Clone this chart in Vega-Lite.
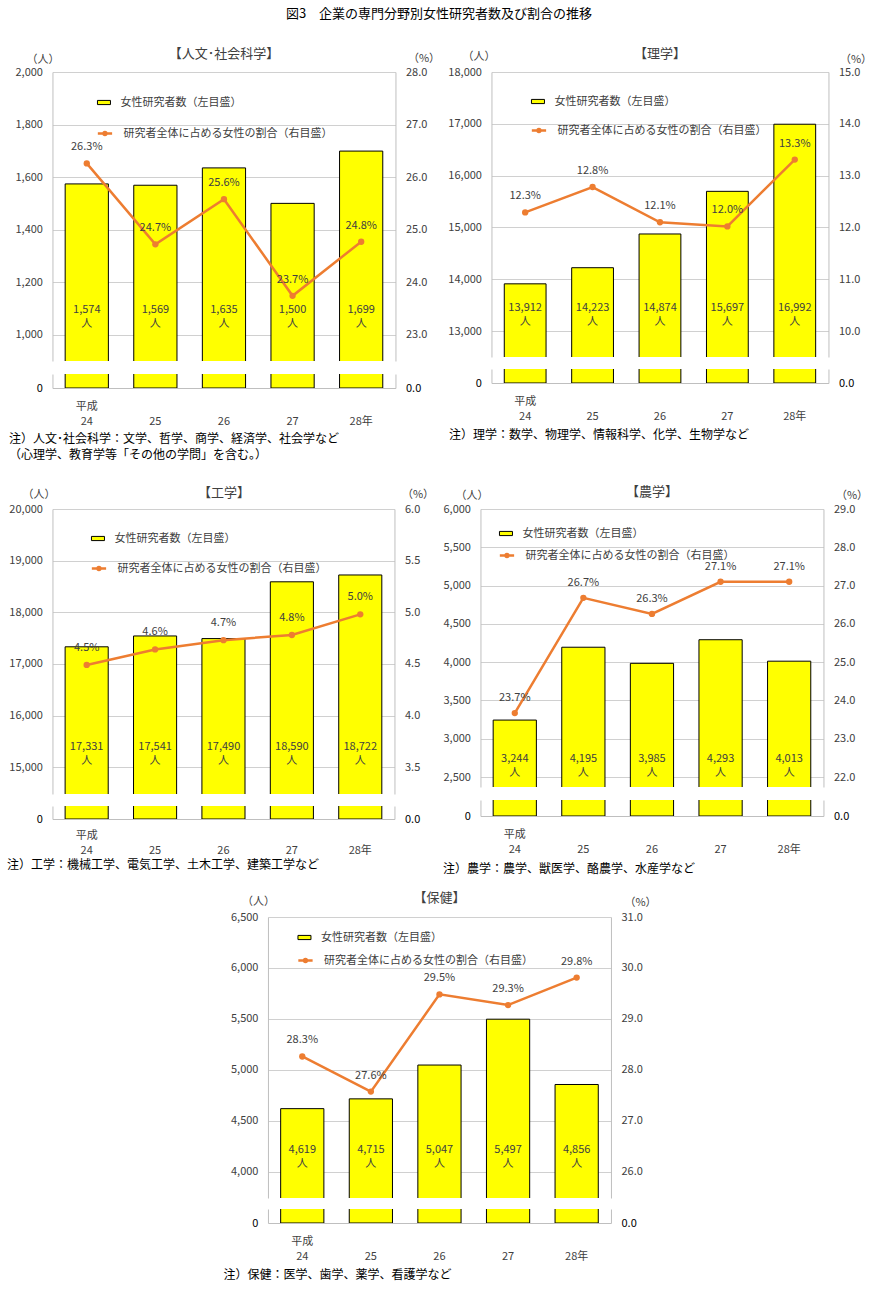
{
  "$schema": "https://vega.github.io/schema/vega-lite/v6.json",
  "padding": {"left": 6, "top": 8, "right": 5, "bottom": 5},
  "background": "#ffffff",
  "title": {"text": "図3　企業の専門分野別女性研究者数及び割合の推移", "anchor": "middle", "fontSize": 13, "fontWeight": "normal", "color": "#000000", "offset": 26},
  "spacing": 17,
  "center": true,
  "resolve": {"scale": {"fill": "independent", "stroke": "independent"}, "legend": {"fill": "independent", "stroke": "independent"}},
  "vconcat": [
    {
      "spacing": 25,
      "resolve": {"scale": {"fill": "independent", "stroke": "independent"}, "legend": {"fill": "independent", "stroke": "independent"}},
      "vconcat": [
        {
          "spacing": 7,
          "resolve": {"scale": {"fill": "independent", "stroke": "independent"}, "legend": {"fill": "independent", "stroke": "independent"}},
          "hconcat": [
            {
              "data": {"values": [
                {"year": "24", "count": 1574, "pct": 26.26},
                {"year": "25", "count": 1569, "pct": 24.72},
                {"year": "26", "count": 1635, "pct": 25.58},
                {"year": "27", "count": 1500, "pct": 23.74},
                {"year": "28年", "count": 1699, "pct": 24.77}
              ]},
              "spacing": 13,
              "resolve": {"scale": {"fill": "independent", "stroke": "independent"}, "legend": {"fill": "independent", "stroke": "independent"}},
              "vconcat": [
                {
                  "width": 343, "height": 289,
                  "encoding": {
                    "x": {"field": "year", "type": "nominal", "sort": null, "scale": {"paddingInner": 0.37, "paddingOuter": 0.185},
                          "axis": {"orient": "top", "labels": false, "ticks": false, "domain": false, "grid": false, "title": "【人文･社会科学】", "titleAngle": 0, "titleX": 171, "titleY": -19, "titleAlign": "center", "titleBaseline": "middle", "titleFontSize": 13}}
                  },
                  "layer": [
                    {
                      "encoding": {
                        "y": {"field": "count", "type": "quantitative", "scale": {"domain": [900, 2000], "nice": false, "zero": false},
                              "axis": {"orient": "left", "values": [1000, 1200, 1400, 1600, 1800, 2000], "labelExpr": "format(datum.value, ',')", "grid": true, "title": "（人）", "titleAngle": 0, "titleX": -10, "titleY": -13, "titleAlign": "center", "titleBaseline": "middle"}}
                      },
                      "layer": [
                        {"mark": {"type": "bar", "clip": true, "stroke": "#000000", "strokeWidth": 1},
                         "encoding": {
                           "fill": {"datum": "女性研究者数（左目盛）", "scale": {"range": ["#FFFF00"]},
                                    "legend": {"orient": "none", "legendX": 38, "legendY": 17, "title": null, "padding": 0, "labelLimit": 400, "symbolType": "M-0.5,-0.16H0.5V0.16H-0.5Z", "symbolSize": 676, "symbolStrokeColor": "#000000", "symbolStrokeWidth": 1, "labelOffset": 3}}
                         }},
                        {"transform": [{"calculate": "format(datum.count, ',') + '\\n人'", "as": "lbl"}],
                         "mark": {"type": "text", "lineBreak": "\n", "lineHeight": 14, "baseline": "middle"},
                         "encoding": {
                           "y": {"datum": 1095, "type": "quantitative", "scale": {"domain": [900, 2000], "nice": false, "zero": false},
                                 "axis": {"orient": "left", "values": [1000, 1200, 1400, 1600, 1800, 2000], "labelExpr": "format(datum.value, ',')", "grid": true, "title": "（人）", "titleAngle": 0, "titleX": -10, "titleY": -13, "titleAlign": "center", "titleBaseline": "middle"}},
                           "text": {"field": "lbl"}
                         }}
                      ]
                    },
                    {
                      "encoding": {
                        "y": {"field": "pct", "type": "quantitative", "scale": {"domain": [22.5, 28], "nice": false, "zero": false},
                              "axis": {"orient": "right", "values": [23, 24, 25, 26, 27, 28], "format": ".1f", "grid": false, "title": "（%）", "titleAngle": 0, "titleX": 28, "titleY": -14, "titleAlign": "center", "titleBaseline": "middle"}}
                      },
                      "layer": [
                        {"mark": {"type": "line", "strokeWidth": 2.5},
                         "encoding": {
                           "stroke": {"datum": "研究者全体に占める女性の割合（右目盛）", "scale": {"range": ["#ED7D31"]},
                                      "legend": {"orient": "none", "legendX": 38, "legendY": 47, "title": null, "padding": 0, "labelLimit": 400, "symbolType": "M-0.55,0H0.55M0.11,0A0.11,0.11,0,1,1,-0.11,0A0.11,0.11,0,1,1,0.11,0Z", "symbolSize": 676, "symbolStrokeWidth": 2.5, "labelOffset": 4,
                                                 "encode": {"symbols": {"update": {"fill": {"value": "#ED7D31"}, "stroke": {"value": "#ED7D31"}, "strokeWidth": {"value": 2.5}}}}}}
                         }},
                        {"mark": {"type": "point", "filled": true, "size": 40, "color": "#ED7D31", "opacity": 1}},
                        {"transform": [{"calculate": "format(datum.pct, '.1f') + '%'", "as": "plbl"}],
                         "mark": {"type": "text", "dy": -16, "baseline": "middle"},
                         "encoding": {"text": {"field": "plbl"}}}
                      ]
                    }
                  ],
                  "resolve": {"scale": {"y": "independent"}}
                },
                {
                  "width": 343, "height": 14,
                  "encoding": {
                    "x": {"field": "year", "type": "nominal", "sort": null, "scale": {"paddingInner": 0.37, "paddingOuter": 0.185},
                          "axis": {"orient": "bottom", "labelExpr": "datum.value == '24' ? ['平成', '24'] : ['', datum.value]", "labelLineHeight": 15, "labelPadding": 12, "labelAngle": 0, "ticks": false, "grid": false,
                                   "title": ["注）人文･社会科学：文学、哲学、商学、経済学、社会学など", "　（心理学、教育学等「その他の学問」を含む。）"], "titleX": -44, "titleY": 45, "titleAlign": "left", "titleBaseline": "top", "titleAngle": 0, "titleFontSize": 12, "titleColor": "#000000", "titleLineHeight": 16}}
                  },
                  "layer": [
                    {"mark": {"type": "bar", "clip": true, "stroke": "#000000", "strokeWidth": 1, "fill": "#FFFF00"},
                     "encoding": {
                       "y": {"field": "count", "type": "quantitative", "scale": {"domain": [0, 100], "nice": false},
                             "axis": {"orient": "left", "values": [0], "grid": false, "title": null, "labelColor": "#000000"}}
                     }},
                    {"mark": {"type": "bar", "clip": true, "opacity": 0},
                     "encoding": {
                       "y": {"field": "pct", "type": "quantitative", "scale": {"domain": [0, 1], "nice": false},
                             "axis": {"orient": "right", "values": [0], "format": ".1f", "grid": false, "title": null, "labelColor": "#000000"}}
                     }}
                  ],
                  "resolve": {"scale": {"y": "independent"}}
                }
              ]
            },
            {
              "data": {"values": [
                {"year": "24", "count": 13912, "pct": 12.29},
                {"year": "25", "count": 14223, "pct": 12.78},
                {"year": "26", "count": 14874, "pct": 12.1},
                {"year": "27", "count": 15697, "pct": 12.02},
                {"year": "28年", "count": 16992, "pct": 13.31}
              ]},
              "spacing": 12,
              "resolve": {"scale": {"fill": "independent", "stroke": "independent"}, "legend": {"fill": "independent", "stroke": "independent"}},
              "vconcat": [
                {
                  "width": 337, "height": 285,
                  "encoding": {
                    "x": {"field": "year", "type": "nominal", "sort": null, "scale": {"paddingInner": 0.38, "paddingOuter": 0.19},
                          "axis": {"orient": "top", "labels": false, "ticks": false, "domain": false, "grid": false, "title": "【理学】", "titleAngle": 0, "titleX": 168, "titleY": -19, "titleAlign": "center", "titleBaseline": "middle", "titleFontSize": 13}}
                  },
                  "layer": [
                    {
                      "encoding": {
                        "y": {"field": "count", "type": "quantitative", "scale": {"domain": [12500, 18000], "nice": false, "zero": false},
                              "axis": {"orient": "left", "values": [13000, 14000, 15000, 16000, 17000, 18000], "labelExpr": "format(datum.value, ',')", "grid": true, "title": "（人）", "titleAngle": 0, "titleX": -13, "titleY": -16, "titleAlign": "center", "titleBaseline": "middle"}}
                      },
                      "layer": [
                        {"mark": {"type": "bar", "clip": true, "stroke": "#000000", "strokeWidth": 1},
                         "encoding": {
                           "fill": {"datum": "女性研究者数（左目盛）", "scale": {"range": ["#FFFF00"]},
                                    "legend": {"orient": "none", "legendX": 33, "legendY": 16, "title": null, "padding": 0, "labelLimit": 400, "symbolType": "M-0.5,-0.16H0.5V0.16H-0.5Z", "symbolSize": 676, "symbolStrokeColor": "#000000", "symbolStrokeWidth": 1, "labelOffset": 3}}
                         }},
                        {"transform": [{"calculate": "format(datum.count, ',') + '\\n人'", "as": "lbl"}],
                         "mark": {"type": "text", "lineBreak": "\n", "lineHeight": 14, "baseline": "middle"},
                         "encoding": {
                           "y": {"datum": 13450, "type": "quantitative", "scale": {"domain": [12500, 18000], "nice": false, "zero": false},
                                 "axis": {"orient": "left", "values": [13000, 14000, 15000, 16000, 17000, 18000], "labelExpr": "format(datum.value, ',')", "grid": true, "title": "（人）", "titleAngle": 0, "titleX": -13, "titleY": -16, "titleAlign": "center", "titleBaseline": "middle"}},
                           "text": {"field": "lbl"}
                         }}
                      ]
                    },
                    {
                      "encoding": {
                        "y": {"field": "pct", "type": "quantitative", "scale": {"domain": [9.5, 15], "nice": false, "zero": false},
                              "axis": {"orient": "right", "values": [10, 11, 12, 13, 14, 15], "format": ".1f", "grid": false, "title": "（%）", "titleAngle": 0, "titleX": 27, "titleY": -13, "titleAlign": "center", "titleBaseline": "middle"}}
                      },
                      "layer": [
                        {"mark": {"type": "line", "strokeWidth": 2.5},
                         "encoding": {
                           "stroke": {"datum": "研究者全体に占める女性の割合（右目盛）", "scale": {"range": ["#ED7D31"]},
                                      "legend": {"orient": "none", "legendX": 33, "legendY": 44, "title": null, "padding": 0, "labelLimit": 400, "symbolType": "M-0.55,0H0.55M0.11,0A0.11,0.11,0,1,1,-0.11,0A0.11,0.11,0,1,1,0.11,0Z", "symbolSize": 676, "symbolStrokeWidth": 2.5, "labelOffset": 4,
                                                 "encode": {"symbols": {"update": {"fill": {"value": "#ED7D31"}, "stroke": {"value": "#ED7D31"}, "strokeWidth": {"value": 2.5}}}}}}
                         }},
                        {"mark": {"type": "point", "filled": true, "size": 40, "color": "#ED7D31", "opacity": 1}},
                        {"transform": [{"calculate": "format(datum.pct, '.1f') + '%'", "as": "plbl"}],
                         "mark": {"type": "text", "dy": -16, "baseline": "middle"},
                         "encoding": {"text": {"field": "plbl"}}}
                      ]
                    }
                  ],
                  "resolve": {"scale": {"y": "independent"}}
                },
                {
                  "width": 337, "height": 14,
                  "encoding": {
                    "x": {"field": "year", "type": "nominal", "sort": null, "scale": {"paddingInner": 0.38, "paddingOuter": 0.19},
                          "axis": {"orient": "bottom", "labelExpr": "datum.value == '24' ? ['平成', '24'] : ['', datum.value]", "labelLineHeight": 15, "labelPadding": 12, "labelAngle": 0, "ticks": false, "grid": false,
                                   "title": "注）理学：数学、物理学、情報科学、化学、生物学など", "titleX": -43, "titleY": 46, "titleAlign": "left", "titleBaseline": "top", "titleAngle": 0, "titleFontSize": 12, "titleColor": "#000000"}}
                  },
                  "layer": [
                    {"mark": {"type": "bar", "clip": true, "stroke": "#000000", "strokeWidth": 1, "fill": "#FFFF00"},
                     "encoding": {
                       "y": {"field": "count", "type": "quantitative", "scale": {"domain": [0, 100], "nice": false},
                             "axis": {"orient": "left", "values": [0], "grid": false, "title": null, "labelColor": "#000000"}}
                     }},
                    {"mark": {"type": "bar", "clip": true, "opacity": 0},
                     "encoding": {
                       "y": {"field": "pct", "type": "quantitative", "scale": {"domain": [0, 1], "nice": false},
                             "axis": {"orient": "right", "values": [0], "format": ".1f", "grid": false, "title": null, "labelColor": "#000000"}}
                     }}
                  ],
                  "resolve": {"scale": {"y": "independent"}}
                }
              ]
            }
          ]
        },
        {
          "spacing": 8,
          "resolve": {"scale": {"fill": "independent", "stroke": "independent"}, "legend": {"fill": "independent", "stroke": "independent"}},
          "hconcat": [
            {
              "data": {"values": [
                {"year": "24", "count": 17331, "pct": 4.49},
                {"year": "25", "count": 17541, "pct": 4.64},
                {"year": "26", "count": 17490, "pct": 4.73},
                {"year": "27", "count": 18590, "pct": 4.78},
                {"year": "28年", "count": 18722, "pct": 4.98}
              ]},
              "spacing": 12,
              "resolve": {"scale": {"fill": "independent", "stroke": "independent"}, "legend": {"fill": "independent", "stroke": "independent"}},
              "vconcat": [
                {
                  "width": 342, "height": 285,
                  "encoding": {
                    "x": {"field": "year", "type": "nominal", "sort": null, "scale": {"paddingInner": 0.37, "paddingOuter": 0.185},
                          "axis": {"orient": "top", "labels": false, "ticks": false, "domain": false, "grid": false, "title": "【工学】", "titleAngle": 0, "titleX": 171, "titleY": -17, "titleAlign": "center", "titleBaseline": "middle", "titleFontSize": 13}}
                  },
                  "layer": [
                    {
                      "encoding": {
                        "y": {"field": "count", "type": "quantitative", "scale": {"domain": [14480, 20000], "nice": false, "zero": false},
                              "axis": {"orient": "left", "values": [15000, 16000, 17000, 18000, 19000, 20000], "labelExpr": "format(datum.value, ',')", "grid": true, "title": "（人）", "titleAngle": 0, "titleX": -14, "titleY": -15, "titleAlign": "center", "titleBaseline": "middle"}}
                      },
                      "layer": [
                        {"mark": {"type": "bar", "clip": true, "stroke": "#000000", "strokeWidth": 1},
                         "encoding": {
                           "fill": {"datum": "女性研究者数（左目盛）", "scale": {"range": ["#FFFF00"]},
                                    "legend": {"orient": "none", "legendX": 32, "legendY": 16, "title": null, "padding": 0, "labelLimit": 400, "symbolType": "M-0.5,-0.16H0.5V0.16H-0.5Z", "symbolSize": 676, "symbolStrokeColor": "#000000", "symbolStrokeWidth": 1, "labelOffset": 3}}
                         }},
                        {"transform": [{"calculate": "format(datum.count, ',') + '\\n人'", "as": "lbl"}],
                         "mark": {"type": "text", "lineBreak": "\n", "lineHeight": 14, "baseline": "middle"},
                         "encoding": {
                           "y": {"datum": 15400, "type": "quantitative", "scale": {"domain": [14480, 20000], "nice": false, "zero": false},
                                 "axis": {"orient": "left", "values": [15000, 16000, 17000, 18000, 19000, 20000], "labelExpr": "format(datum.value, ',')", "grid": true, "title": "（人）", "titleAngle": 0, "titleX": -14, "titleY": -15, "titleAlign": "center", "titleBaseline": "middle"}},
                           "text": {"field": "lbl"}
                         }}
                      ]
                    },
                    {
                      "encoding": {
                        "y": {"field": "pct", "type": "quantitative", "scale": {"domain": [3.24, 6], "nice": false, "zero": false},
                              "axis": {"orient": "right", "values": [3.5, 4, 4.5, 5, 5.5, 6], "format": ".1f", "grid": false, "title": "（%）", "titleAngle": 0, "titleX": 23, "titleY": -15, "titleAlign": "center", "titleBaseline": "middle"}}
                      },
                      "layer": [
                        {"mark": {"type": "line", "strokeWidth": 2.5},
                         "encoding": {
                           "stroke": {"datum": "研究者全体に占める女性の割合（右目盛）", "scale": {"range": ["#ED7D31"]},
                                      "legend": {"orient": "none", "legendX": 32, "legendY": 45, "title": null, "padding": 0, "labelLimit": 400, "symbolType": "M-0.55,0H0.55M0.11,0A0.11,0.11,0,1,1,-0.11,0A0.11,0.11,0,1,1,0.11,0Z", "symbolSize": 676, "symbolStrokeWidth": 2.5, "labelOffset": 4,
                                                 "encode": {"symbols": {"update": {"fill": {"value": "#ED7D31"}, "stroke": {"value": "#ED7D31"}, "strokeWidth": {"value": 2.5}}}}}}
                         }},
                        {"mark": {"type": "point", "filled": true, "size": 40, "color": "#ED7D31", "opacity": 1}},
                        {"transform": [{"calculate": "format(datum.pct, '.1f') + '%'", "as": "plbl"}],
                         "mark": {"type": "text", "dy": -17, "baseline": "middle"},
                         "encoding": {"text": {"field": "plbl"}}}
                      ]
                    }
                  ],
                  "resolve": {"scale": {"y": "independent"}}
                },
                {
                  "width": 342, "height": 13,
                  "encoding": {
                    "x": {"field": "year", "type": "nominal", "sort": null, "scale": {"paddingInner": 0.37, "paddingOuter": 0.185},
                          "axis": {"orient": "bottom", "labelExpr": "datum.value == '24' ? ['平成', '24'] : ['', datum.value]", "labelLineHeight": 15, "labelPadding": 10, "labelAngle": 0, "ticks": false, "grid": false,
                                   "title": "注）工学：機械工学、電気工学、土木工学、建築工学など", "titleX": -46, "titleY": 40, "titleAlign": "left", "titleBaseline": "top", "titleAngle": 0, "titleFontSize": 12, "titleColor": "#000000"}}
                  },
                  "layer": [
                    {"mark": {"type": "bar", "clip": true, "stroke": "#000000", "strokeWidth": 1, "fill": "#FFFF00"},
                     "encoding": {
                       "y": {"field": "count", "type": "quantitative", "scale": {"domain": [0, 100], "nice": false},
                             "axis": {"orient": "left", "values": [0], "grid": false, "title": null, "labelColor": "#000000"}}
                     }},
                    {"mark": {"type": "bar", "clip": true, "opacity": 0},
                     "encoding": {
                       "y": {"field": "pct", "type": "quantitative", "scale": {"domain": [0, 1], "nice": false},
                             "axis": {"orient": "right", "values": [0], "format": ".1f", "grid": false, "title": null, "labelColor": "#000000"}}
                     }}
                  ],
                  "resolve": {"scale": {"y": "independent"}}
                }
              ]
            },
            {
              "data": {"values": [
                {"year": "24", "count": 3244, "pct": 23.67},
                {"year": "25", "count": 4195, "pct": 26.68},
                {"year": "26", "count": 3985, "pct": 26.26},
                {"year": "27", "count": 4293, "pct": 27.1},
                {"year": "28年", "count": 4013, "pct": 27.1}
              ]},
              "spacing": 13,
              "resolve": {"scale": {"fill": "independent", "stroke": "independent"}, "legend": {"fill": "independent", "stroke": "independent"}},
              "vconcat": [
                {
                  "width": 343, "height": 278,
                  "encoding": {
                    "x": {"field": "year", "type": "nominal", "sort": null, "scale": {"paddingInner": 0.37, "paddingOuter": 0.185},
                          "axis": {"orient": "top", "labels": false, "ticks": false, "domain": false, "grid": false, "title": "【農学】", "titleAngle": 0, "titleX": 171, "titleY": -18, "titleAlign": "center", "titleBaseline": "middle", "titleFontSize": 13}}
                  },
                  "layer": [
                    {
                      "encoding": {
                        "y": {"field": "count", "type": "quantitative", "scale": {"domain": [2370, 6000], "nice": false, "zero": false},
                              "axis": {"orient": "left", "values": [2500, 3000, 3500, 4000, 4500, 5000, 5500, 6000], "labelExpr": "format(datum.value, ',')", "grid": true, "title": "（人）", "titleAngle": 0, "titleX": -9, "titleY": -14, "titleAlign": "center", "titleBaseline": "middle"}}
                      },
                      "layer": [
                        {"mark": {"type": "bar", "clip": true, "stroke": "#000000", "strokeWidth": 1},
                         "encoding": {
                           "fill": {"datum": "女性研究者数（左目盛）", "scale": {"range": ["#FFFF00"]},
                                    "legend": {"orient": "none", "legendX": 12, "legendY": 11, "title": null, "padding": 0, "labelLimit": 400, "symbolType": "M-0.5,-0.16H0.5V0.16H-0.5Z", "symbolSize": 676, "symbolStrokeColor": "#000000", "symbolStrokeWidth": 1, "labelOffset": 3}}
                         }},
                        {"transform": [{"calculate": "format(datum.count, ',') + '\\n人'", "as": "lbl"}],
                         "mark": {"type": "text", "lineBreak": "\n", "lineHeight": 14, "baseline": "middle"},
                         "encoding": {
                           "y": {"datum": 2730, "type": "quantitative", "scale": {"domain": [2370, 6000], "nice": false, "zero": false},
                                 "axis": {"orient": "left", "values": [2500, 3000, 3500, 4000, 4500, 5000, 5500, 6000], "labelExpr": "format(datum.value, ',')", "grid": true, "title": "（人）", "titleAngle": 0, "titleX": -9, "titleY": -14, "titleAlign": "center", "titleBaseline": "middle"}},
                           "text": {"field": "lbl"}
                         }}
                      ]
                    },
                    {
                      "encoding": {
                        "y": {"field": "pct", "type": "quantitative", "scale": {"domain": [21.74, 29], "nice": false, "zero": false},
                              "axis": {"orient": "right", "values": [22, 23, 24, 25, 26, 27, 28, 29], "format": ".1f", "grid": false, "title": "（%）", "titleAngle": 0, "titleX": 28, "titleY": -14, "titleAlign": "center", "titleBaseline": "middle"}}
                      },
                      "layer": [
                        {"mark": {"type": "line", "strokeWidth": 2.5},
                         "encoding": {
                           "stroke": {"datum": "研究者全体に占める女性の割合（右目盛）", "scale": {"range": ["#ED7D31"]},
                                      "legend": {"orient": "none", "legendX": 12, "legendY": 32, "title": null, "padding": 0, "labelLimit": 400, "symbolType": "M-0.55,0H0.55M0.11,0A0.11,0.11,0,1,1,-0.11,0A0.11,0.11,0,1,1,0.11,0Z", "symbolSize": 676, "symbolStrokeWidth": 2.5, "labelOffset": 4,
                                                 "encode": {"symbols": {"update": {"fill": {"value": "#ED7D31"}, "stroke": {"value": "#ED7D31"}, "strokeWidth": {"value": 2.5}}}}}}
                         }},
                        {"mark": {"type": "point", "filled": true, "size": 40, "color": "#ED7D31", "opacity": 1}},
                        {"transform": [{"calculate": "format(datum.pct, '.1f') + '%'", "as": "plbl"}],
                         "mark": {"type": "text", "dy": -15, "baseline": "middle"},
                         "encoding": {"text": {"field": "plbl"}}}
                      ]
                    }
                  ],
                  "resolve": {"scale": {"y": "independent"}}
                },
                {
                  "width": 343, "height": 16,
                  "encoding": {
                    "x": {"field": "year", "type": "nominal", "sort": null, "scale": {"paddingInner": 0.37, "paddingOuter": 0.185},
                          "axis": {"orient": "bottom", "labelExpr": "datum.value == '24' ? ['平成', '24'] : ['', datum.value]", "labelLineHeight": 15, "labelPadding": 12, "labelAngle": 0, "ticks": false, "grid": false,
                                   "title": "注）農学：農学、獣医学、酪農学、水産学など", "titleX": -38, "titleY": 47, "titleAlign": "left", "titleBaseline": "top", "titleAngle": 0, "titleFontSize": 12, "titleColor": "#000000"}}
                  },
                  "layer": [
                    {"mark": {"type": "bar", "clip": true, "stroke": "#000000", "strokeWidth": 1, "fill": "#FFFF00"},
                     "encoding": {
                       "y": {"field": "count", "type": "quantitative", "scale": {"domain": [0, 100], "nice": false},
                             "axis": {"orient": "left", "values": [0], "grid": false, "title": null, "labelColor": "#000000"}}
                     }},
                    {"mark": {"type": "bar", "clip": true, "opacity": 0},
                     "encoding": {
                       "y": {"field": "pct", "type": "quantitative", "scale": {"domain": [0, 1], "nice": false},
                             "axis": {"orient": "right", "values": [0], "format": ".1f", "grid": false, "title": null, "labelColor": "#000000"}}
                     }}
                  ],
                  "resolve": {"scale": {"y": "independent"}}
                }
              ]
            }
          ]
        }
      ]
    },
    {
      "data": {"values": [
        {"year": "24", "count": 4619, "pct": 28.26},
        {"year": "25", "count": 4715, "pct": 27.57},
        {"year": "26", "count": 5047, "pct": 29.48},
        {"year": "27", "count": 5497, "pct": 29.27},
        {"year": "28年", "count": 4856, "pct": 29.81}
      ]},
      "spacing": 11,
      "resolve": {"scale": {"fill": "independent", "stroke": "independent"}, "legend": {"fill": "independent", "stroke": "independent"}},
      "vconcat": [
        {
          "width": 343, "height": 281,
          "encoding": {
            "x": {"field": "year", "type": "nominal", "sort": null, "scale": {"paddingInner": 0.37, "paddingOuter": 0.185},
                  "axis": {"orient": "top", "labels": false, "ticks": false, "domain": false, "grid": false, "title": "【保健】", "titleAngle": 0, "titleX": 171, "titleY": -20, "titleAlign": "center", "titleBaseline": "middle", "titleFontSize": 13}}
          },
          "layer": [
            {
              "encoding": {
                "y": {"field": "count", "type": "quantitative", "scale": {"domain": [3742, 6500], "nice": false, "zero": false},
                      "axis": {"orient": "left", "values": [4000, 4500, 5000, 5500, 6000, 6500], "labelExpr": "format(datum.value, ',')", "grid": true, "title": "（人）", "titleAngle": 0, "titleX": -10, "titleY": -16, "titleAlign": "center", "titleBaseline": "middle"}}
              },
              "layer": [
                {"mark": {"type": "bar", "clip": true, "stroke": "#000000", "strokeWidth": 1},
                 "encoding": {
                   "fill": {"datum": "女性研究者数（左目盛）", "scale": {"range": ["#FFFF00"]},
                            "legend": {"orient": "none", "legendX": 23, "legendY": 7, "title": null, "padding": 0, "labelLimit": 400, "symbolType": "M-0.5,-0.16H0.5V0.16H-0.5Z", "symbolSize": 676, "symbolStrokeColor": "#000000", "symbolStrokeWidth": 1, "labelOffset": 3}}
                 }},
                {"transform": [{"calculate": "format(datum.count, ',') + '\\n人'", "as": "lbl"}],
                 "mark": {"type": "text", "lineBreak": "\n", "lineHeight": 14, "baseline": "middle"},
                 "encoding": {
                   "y": {"datum": 4210, "type": "quantitative", "scale": {"domain": [3742, 6500], "nice": false, "zero": false},
                         "axis": {"orient": "left", "values": [4000, 4500, 5000, 5500, 6000, 6500], "labelExpr": "format(datum.value, ',')", "grid": true, "title": "（人）", "titleAngle": 0, "titleX": -10, "titleY": -16, "titleAlign": "center", "titleBaseline": "middle"}},
                   "text": {"field": "lbl"}
                 }}
              ]
            },
            {
              "encoding": {
                "y": {"field": "pct", "type": "quantitative", "scale": {"domain": [25.48, 31], "nice": false, "zero": false},
                      "axis": {"orient": "right", "values": [26, 27, 28, 29, 30, 31], "format": ".1f", "grid": false, "title": "（%）", "titleAngle": 0, "titleX": 29, "titleY": -15, "titleAlign": "center", "titleBaseline": "middle"}}
              },
              "layer": [
                {"mark": {"type": "line", "strokeWidth": 2.5},
                 "encoding": {
                   "stroke": {"datum": "研究者全体に占める女性の割合（右目盛）", "scale": {"range": ["#ED7D31"]},
                              "legend": {"orient": "none", "legendX": 23, "legendY": 29, "title": null, "padding": 0, "labelLimit": 400, "symbolType": "M-0.55,0H0.55M0.11,0A0.11,0.11,0,1,1,-0.11,0A0.11,0.11,0,1,1,0.11,0Z", "symbolSize": 676, "symbolStrokeWidth": 2.5, "labelOffset": 4,
                                         "encode": {"symbols": {"update": {"fill": {"value": "#ED7D31"}, "stroke": {"value": "#ED7D31"}, "strokeWidth": {"value": 2.5}}}}}}
                 }},
                {"mark": {"type": "point", "filled": true, "size": 40, "color": "#ED7D31", "opacity": 1}},
                {"transform": [{"calculate": "format(datum.pct, '.1f') + '%'", "as": "plbl"}],
                 "mark": {"type": "text", "dy": -16, "baseline": "middle"},
                 "encoding": {"text": {"field": "plbl"}}}
              ]
            }
          ],
          "resolve": {"scale": {"y": "independent"}}
        },
        {
          "width": 343, "height": 14,
          "encoding": {
            "x": {"field": "year", "type": "nominal", "sort": null, "scale": {"paddingInner": 0.37, "paddingOuter": 0.185},
                  "axis": {"orient": "bottom", "labelExpr": "datum.value == '24' ? ['平成', '24'] : ['', datum.value]", "labelLineHeight": 15, "labelPadding": 12, "labelAngle": 0, "ticks": false, "grid": false,
                           "title": "注）保健：医学、歯学、薬学、看護学など", "titleX": -45, "titleY": 46, "titleAlign": "left", "titleBaseline": "top", "titleAngle": 0, "titleFontSize": 12, "titleColor": "#000000"}}
          },
          "layer": [
            {"mark": {"type": "bar", "clip": true, "stroke": "#000000", "strokeWidth": 1, "fill": "#FFFF00"},
             "encoding": {
               "y": {"field": "count", "type": "quantitative", "scale": {"domain": [0, 100], "nice": false},
                     "axis": {"orient": "left", "values": [0], "grid": false, "title": null, "labelColor": "#000000"}}
             }},
            {"mark": {"type": "bar", "clip": true, "opacity": 0},
             "encoding": {
               "y": {"field": "pct", "type": "quantitative", "scale": {"domain": [0, 1], "nice": false},
                     "axis": {"orient": "right", "values": [0], "format": ".1f", "grid": false, "title": null, "labelColor": "#000000"}}
             }}
          ],
          "resolve": {"scale": {"y": "independent"}}
        }
      ]
    }
  ],
  "config": {
    "font": "Noto Sans CJK JP",
    "view": {"stroke": null},
    "axis": {"labelFont": "Noto Sans CJK JP", "labelFontSize": 11, "labelColor": "#404040", "titleFont": "Noto Sans CJK JP", "titleFontSize": 11, "titleFontWeight": "normal", "titleColor": "#404040", "domainColor": "#BFBFBF", "gridColor": "#D0D0D0", "ticks": false, "labelPadding": 10},
    "legend": {"labelFont": "Noto Sans CJK JP", "labelFontSize": 11, "labelColor": "#404040"},
    "text": {"font": "Noto Sans CJK JP", "fontSize": 11, "color": "#404040"},
    "title": {"font": "Noto Sans CJK JP"}
  }
}
